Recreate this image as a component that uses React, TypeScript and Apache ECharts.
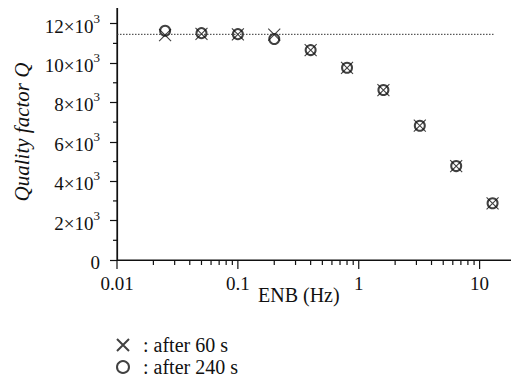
import React, { useEffect, useRef } from "react";
import * as echarts from "echarts";

const freqs = [0.025, 0.05, 0.1, 0.2, 0.4, 0.8, 1.6, 3.2, 6.4, 12.8];
const qAfter60 = [11420, 11480, 11460, 11450, 10660, 9760, 8630, 6820, 4770, 2880];
const qAfter240 = [11640, 11520, 11470, 11220, 10660, 9760, 8630, 6820, 4770, 2880];
const refLevel = 11460;
const refSpan = [0.01, 13.2];
const xMajor = [0.01, 0.1, 1, 10];
const xMinor = [0.02, 0.03, 0.04, 0.05, 0.06, 0.07, 0.08, 0.09, 0.2, 0.3, 0.4, 0.5, 0.6, 0.7, 0.8, 0.9, 2, 3, 4, 5, 6, 7, 8, 9];
const yMajor = [0, 2000, 4000, 6000, 8000, 10000, 12000];
const yMinor = [1000, 3000, 5000, 7000, 9000, 11000];

const FONT = "Liberation Serif";
const CROSS = "path://M0,0L10,10M0,10L10,0";

export default function App() {
  const ref = useRef<HTMLDivElement>(null);
  useEffect(() => {
    if (!ref.current) return;
    const chart = echarts.init(ref.current, null, { renderer: "svg" });
    const tickData = [
      ...xMajor.map((v) => [v, 0, 0, 9]),
      ...xMinor.map((v) => [v, 0, 0, 5]),
      ...yMinor.map((v) => [0.01, v, 1, 4]),
    ];
    chart.setOption({
      animation: false,
      grid: { left: 117, top: 4, right: 3, bottom: 123, show: true, borderColor: "#111", borderWidth: 1.2, backgroundColor: "transparent" },
      xAxis: {
        type: "log",
        logBase: 10,
        min: 0.01,
        max: 20,
        axisLine: { lineStyle: { color: "#111", width: 1.2 } },
        axisTick: { show: false },
        splitLine: { show: false },
        axisLabel: {
          color: "#111",
          fontSize: 19,
          fontFamily: FONT,
          margin: 14,
          formatter: (v: number) => {
            const l = Math.log10(v);
            if (Math.abs(l - Math.round(l)) > 1e-6) return "";
            return String(Number(Math.pow(10, Math.round(l)).toPrecision(6)));
          },
        },
      },
      yAxis: {
        type: "value",
        min: 0,
        max: 13000,
        interval: 1000,
        name: "Quality factor Q",
        nameLocation: "middle",
        nameGap: 85,
        nameTextStyle: { fontFamily: FONT, fontStyle: "italic", fontSize: 21, color: "#111" },
        axisLine: { show: true, lineStyle: { color: "#111", width: 1.2 } },
        axisTick: { show: true, length: 7, customValues: yMajor, lineStyle: { color: "#111", width: 1.2 } },
        splitLine: { show: false },
        axisLabel: {
          customValues: yMajor,
          margin: 17,
          color: "#111",
          fontFamily: FONT,
          formatter: (v: number) => (v === 0 ? "{a|0}" : `{a|${v / 1000}×10}{s|3}`),
          rich: {
            a: { fontSize: 19, fontFamily: FONT, color: "#111", lineHeight: 24, verticalAlign: "bottom" },
            s: { fontSize: 13, fontFamily: FONT, color: "#111", lineHeight: 14, verticalAlign: "top" },
          },
        },
      },
      legend: {
        orient: "vertical",
        left: 116,
        top: 335,
        padding: 0,
        itemGap: 2,
        itemWidth: 12,
        itemHeight: 12,
        textStyle: { fontFamily: FONT, fontSize: 20, color: "#111", padding: [0, 0, 0, 9] },
        data: [": after 60 s", ": after 240 s"],
      },
      graphic: [
        { type: "text", left: 258, top: 285, style: { text: "ENB (Hz)", fontFamily: FONT, fontSize: 20, fill: "#111" } },
      ],
      series: [
        {
          type: "line",
          data: refSpan.map((x) => [x, refLevel]),
          symbol: "none",
          lineStyle: { color: "#333", width: 1, type: [1.5, 1.5] },
          silent: true,
        },
        {
          type: "custom",
          silent: true,
          clip: false,
          data: tickData,
          renderItem: (_p: any, api: any) => {
            const pt = api.coord([api.value(0), api.value(1)]);
            const dir = api.value(2);
            const len = api.value(3);
            const shape = dir === 0
              ? { x1: pt[0], y1: pt[1], x2: pt[0], y2: pt[1] + len }
              : { x1: pt[0], y1: pt[1], x2: pt[0] - len, y2: pt[1] };
            return { type: "line", shape, style: { stroke: "#111", lineWidth: 1.2 } };
          },
        },
        {
          name: ": after 240 s",
          type: "scatter",
          data: freqs.map((f, i) => [f, qAfter240[i]]),
          symbol: "emptyCircle",
          symbolSize: 10,
          itemStyle: { color: "#111", borderColor: "#111", borderWidth: 1 },
        },
        {
          name: ": after 60 s",
          type: "scatter",
          data: freqs.map((f, i) => [f, qAfter60[i]]),
          symbol: CROSS,
          symbolSize: 12,
          itemStyle: { color: "transparent", borderColor: "#111", borderWidth: 1.1 },
        },
      ],
    });
    return () => chart.dispose();
  }, []);
  return (
    <div style={{ margin: -8, position: "relative" }}>
      <div ref={ref} style={{ width: 519, height: 383 }} />
    </div>
  );
}
